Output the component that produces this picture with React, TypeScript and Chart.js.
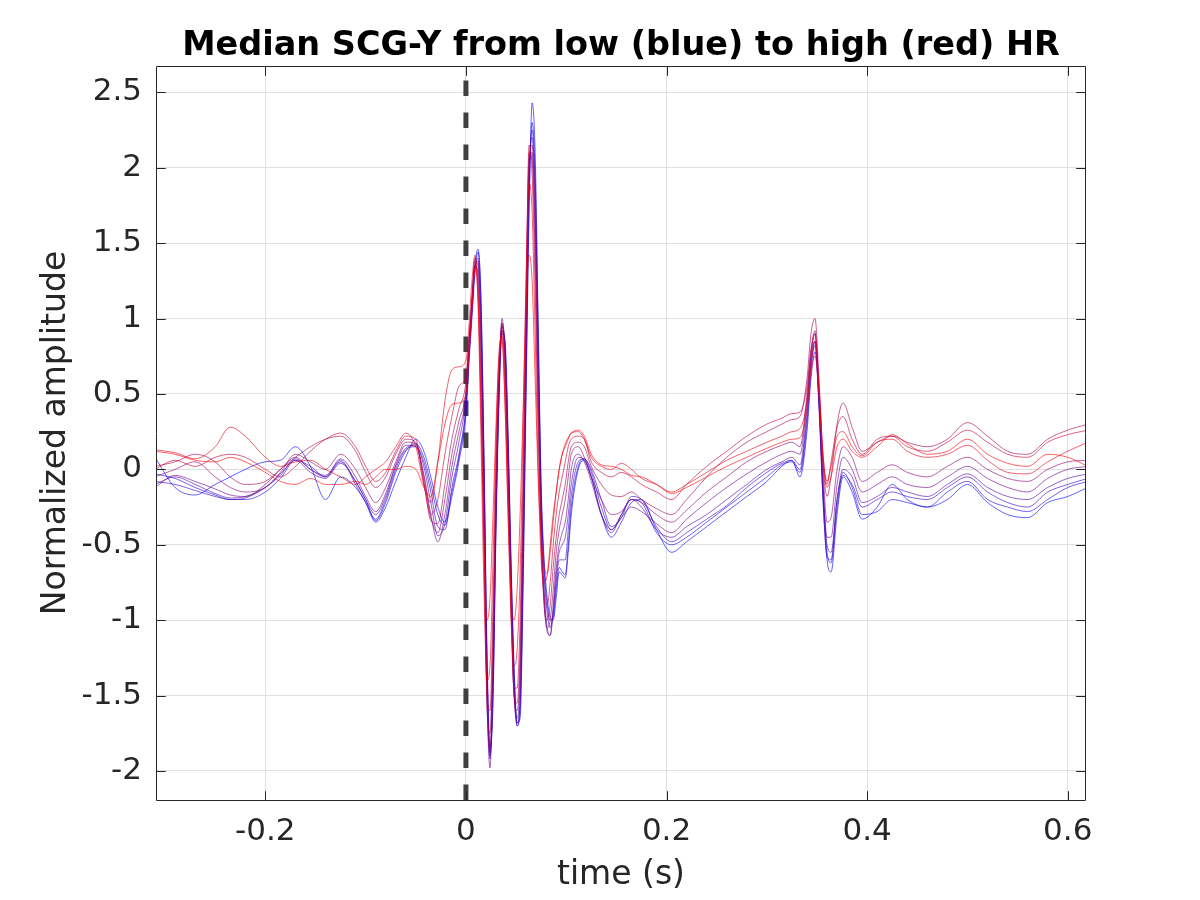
import React, { useEffect, useRef } from "react";
import { Chart, registerables } from "chart.js";

Chart.register(...registerables);

// ---- data ----
const TIME_S = [
  -0.31, -0.29, -0.27, -0.25, -0.235, -0.22, -0.2, -0.185, -0.17, -0.155, -0.14, -0.125, -0.11, -0.1, -0.09, -0.08, -0.07, -0.06,
  -0.05, -0.042, -0.035, -0.028, -0.021, -0.014, -0.007, 0,
  0.003, 0.006, 0.009, 0.012, 0.015, 0.018, 0.021, 0.024, 0.027, 0.03, 0.033, 0.036, 0.039, 0.042, 0.045, 0.048, 0.051, 0.054,
  0.057, 0.06, 0.063, 0.066, 0.069, 0.072, 0.075, 0.078, 0.081, 0.084, 0.087, 0.09, 0.093, 0.096, 0.099, 0.102, 0.105,
  0.112, 0.118, 0.125, 0.135, 0.145, 0.155, 0.165, 0.175, 0.19, 0.205, 0.22, 0.24, 0.26, 0.28, 0.3, 0.315, 0.325, 0.333,
  0.34, 0.344, 0.348, 0.352, 0.356, 0.36, 0.364, 0.37, 0.376, 0.385, 0.395, 0.41, 0.425, 0.44, 0.46, 0.48, 0.5, 0.52, 0.54,
  0.56, 0.58, 0.6, 0.62,
];

const HR_CURVE_01 = [
  0.08, -0.12, -0.17, -0.1, -0.05, 0.0, 0.05, 0.06, 0.15, 0.02, -0.2, -0.05, -0.12, -0.22, -0.35, -0.25, -0.08, 0.08,
  0.2, 0.12, -0.05, -0.25, -0.35, -0.15, 0.08, 0.4,
  0.75, 1.05, 1.35, 1.46, 1.15, 0.1, -1.2, -1.85, -1.55, -0.4, 0.45, 0.9, 0.85, 0.25, -0.6, -1.3, -1.68, -1.65,
  -0.8, 0.5, 1.7, 2.43, 2.1, 1.0, -0.1, -0.6, -0.85, -0.98, -1.0, -0.85, -0.68, -0.7, -0.72, -0.55, -0.3,
  0.0, 0.06, -0.05, -0.3, -0.45, -0.35, -0.22, -0.2, -0.4, -0.55, -0.48, -0.38, -0.28, -0.18, -0.08, 0.02, 0.06, -0.05,
  0.25, 0.6, 0.78, 0.45, -0.2, -0.6, -0.68, -0.3, -0.05, -0.15, -0.33, -0.25, -0.1, -0.2, -0.25, -0.2, -0.1, -0.22, -0.3,
  -0.32, -0.22, -0.18, -0.12,
];
const HR_CURVE_02 = [
  -0.03, -0.06, -0.12, -0.17, -0.2, -0.2, -0.15, -0.06, 0.06, 0.02, -0.05, 0.05, -0.08, -0.2, -0.34, -0.22, -0.02, 0.12,
  0.17, 0.08, -0.1, -0.3, -0.37, -0.18, 0.05, 0.36,
  0.7, 1.0, 1.3, 1.44, 1.1, 0.05, -1.25, -1.9, -1.5, -0.35, 0.5, 0.92, 0.82, 0.2, -0.65, -1.35, -1.7, -1.6,
  -0.7, 0.6, 1.8, 2.3, 1.95, 0.9, -0.15, -0.65, -0.9, -1.0, -0.98, -0.8, -0.65, -0.68, -0.7, -0.5, -0.25,
  0.02, 0.07, -0.02, -0.25, -0.4, -0.3, -0.2, -0.22, -0.42, -0.5, -0.45, -0.35, -0.25, -0.15, -0.05, 0.03, 0.05, -0.02,
  0.3, 0.65, 0.85, 0.5, -0.1, -0.55, -0.62, -0.25, -0.02, -0.12, -0.3, -0.28, -0.2, -0.22, -0.25, -0.15, -0.08, -0.2, -0.25,
  -0.28, -0.2, -0.12, -0.08,
];
const HR_CURVE_03 = [
  -0.08, -0.1, -0.14, -0.18, -0.2, -0.19, -0.12, -0.04, 0.07, 0.0, -0.04, 0.06, -0.1, -0.22, -0.33, -0.2, 0.0, 0.13,
  0.15, 0.05, -0.15, -0.38, -0.4, -0.12, 0.1, 0.42,
  0.75, 1.05, 1.33, 1.4, 1.0, 0.0, -1.3, -1.88, -1.4, -0.3, 0.52, 0.95, 0.8, 0.15, -0.7, -1.4, -1.68, -1.55,
  -0.6, 0.7, 1.9, 2.25, 1.85, 0.8, -0.2, -0.7, -0.95, -1.05, -0.95, -0.75, -0.6, -0.6, -0.6, -0.4, -0.18,
  0.05, 0.07, 0.0, -0.2, -0.38, -0.32, -0.18, -0.2, -0.38, -0.48, -0.42, -0.33, -0.24, -0.12, -0.02, 0.04, 0.06, 0.0,
  0.35, 0.7, 0.82, 0.4, -0.2, -0.58, -0.6, -0.2, -0.04, -0.1, -0.25, -0.2, -0.15, -0.18, -0.2, -0.12, -0.05, -0.15, -0.22,
  -0.25, -0.15, -0.1, -0.06,
];
const HR_CURVE_04 = [
  -0.1, -0.05, -0.1, -0.16, -0.19, -0.18, -0.12, -0.03, 0.06, -0.02, -0.06, 0.04, -0.08, -0.2, -0.3, -0.18, 0.02, 0.14,
  0.16, 0.02, -0.22, -0.44, -0.36, -0.05, 0.18, 0.48,
  0.8, 1.1, 1.35, 1.38, 0.95, -0.1, -1.4, -1.92, -1.35, -0.25, 0.55, 0.97, 0.78, 0.1, -0.75, -1.45, -1.7, -1.5,
  -0.5, 0.8, 1.95, 2.2, 1.75, 0.7, -0.3, -0.8, -1.05, -1.1, -0.95, -0.7, -0.55, -0.5, -0.45, -0.3, -0.1,
  0.08, 0.06, -0.05, -0.3, -0.42, -0.3, -0.2, -0.25, -0.4, -0.45, -0.38, -0.3, -0.2, -0.1, 0.0, 0.05, 0.08, 0.03,
  0.4, 0.75, 0.9, 0.45, -0.15, -0.5, -0.55, -0.2, 0.0, -0.05, -0.22, -0.18, -0.12, -0.15, -0.18, -0.1, -0.03, -0.12, -0.18,
  -0.2, -0.12, -0.06, -0.03,
];
const HR_CURVE_05 = [
  -0.12, -0.04, -0.08, -0.13, -0.17, -0.18, -0.1, 0.0, 0.08, 0.0, -0.05, 0.07, -0.05, -0.18, -0.28, -0.16, 0.03, 0.16,
  0.15, -0.03, -0.3, -0.48, -0.3, 0.02, 0.25, 0.5,
  0.82, 1.12, 1.38, 1.35, 0.85, -0.2, -1.5, -1.98, -1.3, -0.2, 0.6, 1.0, 0.75, 0.05, -0.8, -1.5, -1.65, -1.4,
  -0.4, 0.9, 2.0, 2.15, 1.65, 0.6, -0.35, -0.85, -1.08, -1.1, -0.9, -0.65, -0.5, -0.42, -0.35, -0.2, 0.0,
  0.1, 0.05, -0.08, -0.3, -0.4, -0.32, -0.25, -0.28, -0.36, -0.42, -0.33, -0.22, -0.12, -0.03, 0.05, 0.1, 0.12, 0.1,
  0.45, 0.75, 0.85, 0.45, -0.1, -0.45, -0.45, -0.1, 0.08, 0.0, -0.15, -0.1, -0.05, -0.1, -0.12, -0.05, 0.02, -0.06, -0.12,
  -0.15, -0.06, 0.0, 0.02,
];
const HR_CURVE_06 = [
  -0.05, 0.0, 0.05, -0.05, -0.12, -0.15, -0.12, -0.02, 0.1, 0.05, 0.0, 0.1, 0.0, -0.12, -0.22, -0.12, 0.05, 0.18,
  0.17, -0.05, -0.32, -0.42, -0.2, 0.1, 0.32, 0.52,
  0.82, 1.1, 1.35, 1.3, 0.75, -0.3, -1.55, -1.85, -1.2, -0.15, 0.6, 0.97, 0.7, 0.0, -0.85, -1.5, -1.6, -1.3,
  -0.3, 1.0, 2.05, 2.1, 1.55, 0.5, -0.4, -0.9, -1.05, -1.0, -0.8, -0.55, -0.4, -0.3, -0.2, -0.05, 0.1,
  0.15, 0.08, -0.05, -0.2, -0.3, -0.28, -0.2, -0.22, -0.3, -0.35, -0.27, -0.15, -0.05, 0.05, 0.12, 0.16, 0.18, 0.15,
  0.5, 0.78, 0.9, 0.5, 0.0, -0.35, -0.32, 0.0, 0.15, 0.08, -0.08, -0.02, 0.03, -0.02, -0.05, 0.02, 0.08, 0.0, -0.06,
  -0.08, 0.0, 0.05, 0.06,
];
const HR_CURVE_07 = [
  0.02, 0.05, 0.1, 0.05, -0.05, -0.1, -0.08, 0.0, 0.08, 0.15, 0.2, 0.22, 0.12, -0.02, -0.12, -0.05, 0.1, 0.2,
  0.18, -0.08, -0.34, -0.36, -0.1, 0.2, 0.4, 0.58,
  0.85, 1.12, 1.35, 1.25, 0.6, -0.45, -1.55, -1.75, -1.05, -0.05, 0.65, 0.95, 0.65, -0.05, -0.9, -1.5, -1.55, -1.2,
  -0.2, 1.1, 2.1, 2.05, 1.4, 0.4, -0.45, -0.9, -1.0, -0.9, -0.65, -0.45, -0.3, -0.2, -0.1, 0.05, 0.15,
  0.18, 0.15, 0.02, -0.1, -0.17, -0.18, -0.15, -0.2, -0.26, -0.3, -0.2, -0.05, 0.08, 0.18, 0.25, 0.3, 0.33, 0.35,
  0.6, 0.9, 1.0, 0.6, 0.05, -0.18, -0.05, 0.3, 0.44, 0.28, 0.12, 0.18, 0.22, 0.18, 0.15, 0.2, 0.31, 0.22, 0.12,
  0.1, 0.2, 0.26, 0.3,
];
const HR_CURVE_08 = [
  0.0, 0.06, 0.02, 0.08, 0.1, 0.08, 0.0, -0.05, 0.02, 0.12, 0.2, 0.24, 0.15, 0.02, -0.08, -0.02, 0.12, 0.22,
  0.2, -0.1, -0.3, -0.2, 0.1, 0.35, 0.55, 0.62,
  0.85, 1.15, 1.4, 1.2, 0.45, -0.6, -1.5, -1.6, -0.9, 0.05, 0.7, 0.92, 0.55, -0.15, -0.95, -1.45, -1.45, -1.0,
  0.0, 1.2, 2.15, 1.95, 1.2, 0.25, -0.5, -0.85, -0.9, -0.75, -0.5, -0.3, -0.15, -0.05, 0.05, 0.15, 0.2,
  0.22, 0.2, 0.05, -0.02, -0.05, -0.02, -0.05, -0.1, -0.15, -0.2, -0.1, 0.02, 0.12, 0.22, 0.3, 0.34, 0.37, 0.38,
  0.55, 0.8, 0.92, 0.55, 0.1, -0.1, 0.05, 0.28, 0.35, 0.2, 0.1, 0.2, 0.22, 0.15, 0.12, 0.18, 0.26, 0.18, 0.1,
  0.08, 0.18, 0.23, 0.26,
];
const HR_CURVE_09 = [
  0.13, 0.11, 0.07, 0.15, 0.28, 0.22, 0.08, 0.02, 0.05, 0.06, 0.0, -0.05, -0.1, -0.05, 0.0, 0.05, 0.15, 0.24,
  0.15, -0.1, -0.22, 0.05, 0.45, 0.66, 0.68, 0.72,
  0.95, 1.25, 1.42, 1.1, 0.2, -0.8, -1.4, -1.3, -0.6, 0.2, 0.78, 0.88, 0.45, -0.3, -1.0, -1.3, -1.2, -0.7,
  0.3, 1.3, 1.9, 1.7, 0.9, 0.0, -0.6, -0.75, -0.7, -0.5, -0.3, -0.15, 0.0, 0.1, 0.15, 0.2, 0.24,
  0.25, 0.2, 0.08, 0.02, 0.0, 0.04, 0.0, -0.06, -0.1, -0.15, -0.1, -0.02, 0.06, 0.12, 0.18, 0.22, 0.25, 0.27,
  0.45, 0.7, 0.85, 0.55, 0.1, -0.08, 0.02, 0.22, 0.25, 0.15, 0.09, 0.18, 0.2, 0.12, 0.08, 0.1, 0.16, 0.06, -0.02,
  -0.03, 0.05, 0.12, 0.18,
];
const HR_CURVE_10 = [
  0.12, 0.1, 0.06, 0.05, 0.08, 0.05, -0.02, -0.08, -0.1, -0.06, -0.1, -0.1, -0.08, -0.1, -0.05, 0.0, 0.0, 0.02,
  0.0, -0.12, -0.18, 0.05, 0.3, 0.43, 0.44, 0.5,
  0.75, 1.05, 1.33, 1.15, 0.4, -0.45, -1.0, -0.85, -0.3, 0.3, 0.75, 0.85, 0.4, -0.3, -0.85, -1.0, -0.8, -0.3,
  0.4, 1.1, 1.42, 1.25, 0.6, -0.05, -0.45, -0.65, -0.69, -0.55, -0.35, -0.15, 0.0, 0.1, 0.17, 0.21, 0.24,
  0.26, 0.22, 0.1, 0.03, 0.02, 0.0, -0.04, -0.05, -0.1, -0.16, -0.12, -0.05, 0.02, 0.08, 0.14, 0.18, 0.2, 0.21,
  0.4, 0.65, 0.75, 0.5, 0.05, -0.12, -0.05, 0.15, 0.2, 0.12, 0.08, 0.15, 0.23, 0.17, 0.1, 0.12, 0.2, 0.1, 0.04,
  0.02, 0.1, 0.08, 0.02,
];

// ordered from low HR (blue) to high HR (red)
const HR_CURVES = [
  HR_CURVE_01, HR_CURVE_02, HR_CURVE_03, HR_CURVE_04, HR_CURVE_05,
  HR_CURVE_06, HR_CURVE_07, HR_CURVE_08, HR_CURVE_09, HR_CURVE_10,
];

const X_TICKS = [-0.2, 0, 0.2, 0.4, 0.6];
const X_TICK_LABELS = ["-0.2", "0", "0.2", "0.4", "0.6"];
const Y_TICKS = [-2, -1.5, -1, -0.5, 0, 0.5, 1, 1.5, 2, 2.5];
const Y_TICK_LABELS = ["-2", "-1.5", "-1", "-0.5", "0", "0.5", "1", "1.5", "2", "2.5"];
const X_LIMITS = [-0.309, 0.6182];
const Y_LIMITS = [-2.1923, 2.6744];
const ONSET_TIME = 0;

const TITLE = "Median SCG-Y from low (blue) to high (red) HR";
const X_LABEL = "time (s)";
const Y_LABEL = "Normalized amplitude";

const FONT = "'DejaVu Sans', sans-serif";
const AXIS_COLOR = "#262626";

const axesBoxPlugin = {
  id: "axesBox",
  afterDraw(chart: any) {
    const { ctx, chartArea: a, scales } = chart;
    const xs = scales.x;
    const ys = scales.y;
    ctx.save();
    ctx.strokeStyle = AXIS_COLOR;
    ctx.lineWidth = 1;
    const L = Math.round(a.left) + 0.5;
    const R = Math.round(a.right) - 0.5;
    const T = Math.round(a.top) + 0.5;
    const B = Math.round(a.bottom) + 0.5;
    const tl = 9.3;
    ctx.beginPath();
    ctx.rect(L, T, R - L, B - T);
    for (const v of X_TICKS) {
      const px = Math.round(xs.getPixelForValue(v)) + 0.5;
      ctx.moveTo(px, B);
      ctx.lineTo(px, B - tl);
      ctx.moveTo(px, T);
      ctx.lineTo(px, T + tl);
    }
    for (const v of Y_TICKS) {
      const py = Math.round(ys.getPixelForValue(v)) + 0.5;
      ctx.moveTo(L, py);
      ctx.lineTo(L + tl, py);
      ctx.moveTo(R, py);
      ctx.lineTo(R - tl, py);
    }
    ctx.stroke();
    ctx.restore();
  },
};

export default function App() {
  const canvasRef = useRef<HTMLCanvasElement | null>(null);

  useEffect(() => {
    const canvas = canvasRef.current;
    if (!canvas) return;
    const n = HR_CURVES.length;
    const curveSets = HR_CURVES.map((curve, i) => {
      const f = i / (n - 1);
      return {
        label: `HR group ${i + 1}`,
        data: TIME_S.map((t, k) => ({ x: t, y: curve[k] })),
        borderColor: `rgba(${Math.round(255 * f)},0,${Math.round(255 * (1 - f))},0.62)`,
        borderWidth: 1,
        pointRadius: 0,
        cubicInterpolationMode: "monotone" as const,
        fill: false,
        order: n - i,
      };
    });
    const onset = {
      label: "onset",
      data: [
        { x: ONSET_TIME, y: Y_LIMITS[0] },
        { x: ONSET_TIME, y: Y_LIMITS[1] },
      ],
      borderColor: "#404040",
      borderWidth: 5,
      borderDash: [15.6, 16.4],
      pointRadius: 0,
      fill: false,
      tension: 0,
      order: 100,
    };

    const chart = new Chart(canvas, {
      type: "line",
      data: { datasets: [onset, ...curveSets] as any },
      options: {
        responsive: false,
        animation: false,
        devicePixelRatio: 1,
        events: [],
        layout: { padding: { left: 0, right: 114, top: 0, bottom: 0 } },
        plugins: {
          legend: { display: false },
          tooltip: { enabled: false },
          title: {
            display: true,
            text: TITLE,
            fullSize: false,
            color: "#000000",
            font: { family: FONT, size: 33.5, weight: "bold", lineHeight: 1.0 },
            padding: { top: 29.8, bottom: 2.7 },
          },
        },
        scales: {
          x: {
            type: "linear",
            min: X_LIMITS[0],
            max: X_LIMITS[1],
            afterBuildTicks: (s: any) => {
              s.ticks = X_TICKS.map((v) => ({ value: v }));
            },
            afterFit: (s: any) => {
              s.height = 100;
            },
            ticks: {
              callback: (_v: any, i: number) => X_TICK_LABELS[i],
              font: { family: FONT, size: 31 },
              color: AXIS_COLOR,
              padding: 13,
              maxRotation: 0,
              autoSkip: false,
            },
            grid: { color: "#dfdfdf", lineWidth: 1, drawTicks: false },
            border: { display: false },
            title: {
              display: true,
              text: X_LABEL,
              color: AXIS_COLOR,
              font: { family: FONT, size: 33 },
              padding: { top: 0, bottom: 4.6 },
            },
          },
          y: {
            type: "linear",
            min: Y_LIMITS[0],
            max: Y_LIMITS[1],
            afterBuildTicks: (s: any) => {
              s.ticks = Y_TICKS.map((v) => ({ value: v }));
            },
            afterFit: (s: any) => {
              s.width = 156;
            },
            ticks: {
              callback: (_v: any, i: number) => Y_TICK_LABELS[i],
              font: { family: FONT, size: 31 },
              color: AXIS_COLOR,
              padding: 14,
              autoSkip: false,
            },
            grid: { color: "#dfdfdf", lineWidth: 1, drawTicks: false },
            border: { display: false },
            title: {
              display: true,
              text: Y_LABEL,
              color: AXIS_COLOR,
              font: { family: FONT, size: 33 },
              padding: { top: 37, bottom: 0 },
            },
          },
        },
      },
      plugins: [axesBoxPlugin],
    });

    return () => {
      chart.destroy();
    };
  }, []);

  return (
    <div style={{ position: "fixed", left: 0, top: 0, width: 1200, height: 900, background: "#ffffff" }}>
      <canvas ref={canvasRef} width={1200} height={900} style={{ width: 1200, height: 900, display: "block" }} />
    </div>
  );
}
